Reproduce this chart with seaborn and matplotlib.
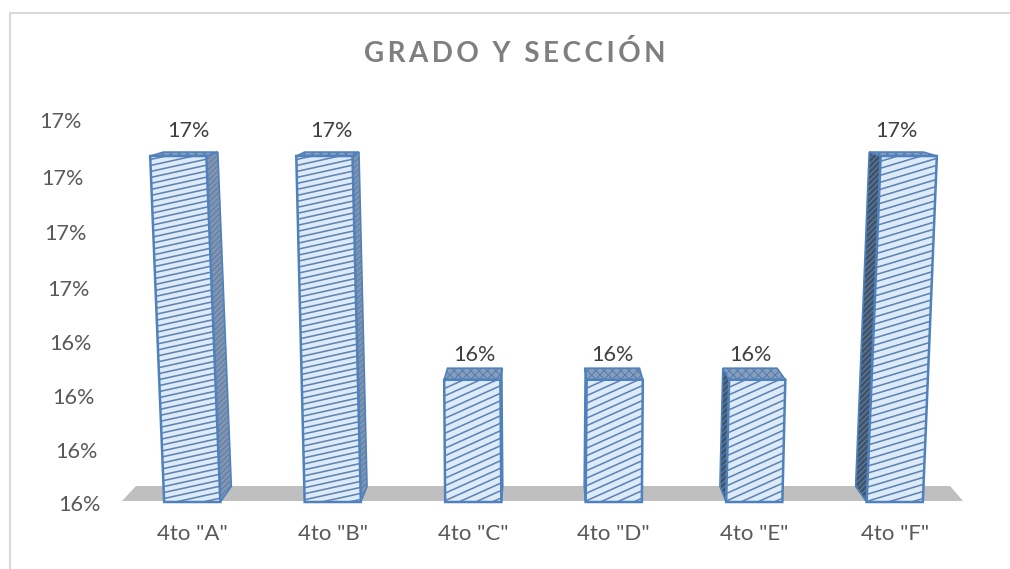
import numpy as np
import pandas as pd
import seaborn as sns
import matplotlib.pyplot as plt
from matplotlib.collections import LineCollection
from matplotlib.patches import Polygon, Rectangle
from matplotlib.transforms import Affine2D, IdentityTransform

sections = ['4to "A"', '4to "B"', '4to "C"', '4to "D"', '4to "E"', '4to "F"']
percent = [16.734, 16.734, 16.324, 16.324, 16.324, 16.734]
bar_labels = ["17%", "17%", "16%", "16%", "16%", "17%"]
y_ticks = [16.1, 16.2, 16.3, 16.4, 16.5, 16.6, 16.7, 16.8]
y_tick_labels = ["16%", "16%", "16%", "16%", "17%", "17%", "17%", "17%"]

W, H = 1010, 569
BASE = y_ticks[0]
VP = np.array([543.0, H - 40.0])      # vanishing point, bars recede toward it
DEPTH = np.array([0.034, 0.034])
LEAN = 14 / (351 * 346)               # outward lean of the front faces
BLUE = "#4F81BD"
FILL = "#DDEBF8"
ID = IdentityTransform()


def px(x, y):
    """Reference pixel (y down) to display coords."""
    return (x, H - y)


def back(p):
    return p + DEPTH * (VP - p)


sns.set_theme(style="white")
plt.rcParams["font.family"] = ["Lato", "DejaVu Sans"]
plt.rcParams["hatch.linewidth"] = 0.8

fig = plt.figure(figsize=(W / 100, H / 100), dpi=100)
ax = fig.add_axes([122 / W, (H - 502) / H, 843 / W, 382 / H])
ax.patch.set_alpha(0)

df = pd.DataFrame({"section": sections, "percent": percent})
sns.barplot(data=df, x="section", y="percent", color=FILL, saturation=1, width=0.4,
            linewidth=0, ax=ax, zorder=5)
ax.set_xlim(-0.5, 5.5)
ax.set_ylim(BASE, 16.8)
ax.set_xlabel("")
ax.set_ylabel("")
sns.despine(ax=ax, left=True, bottom=True)

# chart frame, only top and left are inside the picture
fig.add_artist(Rectangle(px(10, 575), 1100, 562, transform=ID, fill=False,
                         edgecolor="#D9D9D9", linewidth=1.5, zorder=-2))

# floor
fig.add_artist(Polygon([px(122, 501), px(136, 486), px(950, 486), px(963, 501)],
                       closed=True, transform=ID, facecolor="#BFBFBF", edgecolor="none", zorder=-1))

slopes = [0.22, 0.22, 0.45, 0.45, 0.45, 0.3]
gaps = [6, 6, 7.5, 7.5, 7.5, 7]
for bar, label, slope, gap in zip(ax.patches, bar_labels, slopes, gaps):
    bar.set_y(BASE)
    bar.set_height(bar.get_height() - BASE)
    x0, x1 = bar.get_x(), bar.get_x() + bar.get_width()
    top = bar.get_y() + bar.get_height()

    # lean the front face in pixel space
    (dx0, dy0), (dx1, dy1) = ax.transData.transform([(x0, BASE), (x1, top)])
    lean = LEAN * ((dx0 + dx1) / 2 - VP[0])
    bar.set_transform(ax.transData + Affine2D().translate(0, -dy0)
                      + Affine2D.from_values(1, 0, lean, 1, 0, 0).translate(0, dy0))
    bar.set_clip_on(False)

    shift = lean * (dy1 - dy0)
    bl = np.array([dx0, dy0])
    br = np.array([dx1, dy0])
    tl = np.array([dx0 + shift, dy1])
    tr = np.array([dx1 + shift, dy1])

    # side and top faces
    side = (br, back(br), back(tr), tr) if dx1 < VP[0] else (bl, back(bl), back(tl), tl)
    dark = dx1 > VP[0] + 100
    ax.add_patch(Polygon(side, closed=True, transform=ID, clip_on=False, zorder=3,
                         facecolor="#46525F" if dark else "#8794A8",
                         edgecolor=BLUE, linewidth=1.2, hatch="//////"))
    ax.add_patch(Polygon((tl, back(tl), back(tr), tr), closed=True, transform=ID, clip_on=False,
                         zorder=4, facecolor="#8C9DB5", edgecolor=BLUE, linewidth=1.2, hatch="xxxx"))

    # bar outline, also the clip shape of the hatch
    outline = Polygon((bl, br, tr, tl), closed=True, transform=ID, fill=False, clip_on=False,
                      edgecolor=BLUE, linewidth=1.8, zorder=7)
    ax.add_patch(outline)

    # shallow diagonal hatch on the front face
    xa, xb = min(bl[0], tl[0]) - 2, max(br[0], tr[0]) + 2
    starts = np.arange(dy0 - gap * 12, dy1 + gap, gap)
    segs = [[(xa, s), (xb, s + slope * (xb - xa))] for s in starts]
    lines = LineCollection(segs, colors="#5F83B3", linewidths=1.15, transform=ID, zorder=6)
    ax.add_collection(lines, autolim=False)
    lines.set_clip_path(outline)

    ax.text((back(tl)[0] + back(tr)[0]) / 2 - (2 if dx1 < 300 else 0), dy1 + 25, label, transform=ID,
            ha="center", va="center", fontsize=15.6, color="#404040", zorder=8)

ax.set_yticks(y_ticks, y_tick_labels)
ax.tick_params(axis="y", length=0, pad=0, labelsize=15.6, labelcolor="#595959")
ax.tick_params(axis="x", length=0, pad=16, labelsize=16, labelcolor="#595959")

# y labels drift left with height, following the wall perspective
ax_left, ax_w = 122, 843
y_nudge = [1, 3, 3, 4, 4, 3, 2, 0]
for tick, value, nudge in zip(ax.yaxis.get_major_ticks(), y_ticks, y_nudge):
    center = 79 - 19 * (value - y_ticks[0]) / (y_ticks[-1] - y_ticks[0])
    tick.label1.set_x((center - ax_left) / ax_w)
    tick.label1.set_horizontalalignment("center")
    tick.label1.set_transform(tick.label1.get_transform() + Affine2D().translate(0, -nudge))

fig.text(515 / W, (H - 53) / H,
         "G\u2009R\u2009A\u2009D\u2009O\u2009\u2009 Y\u2009\u2009 S\u2009E\u2009C\u2009C\u2009I\u2009Ó\u2009N",
         ha="center", va="center", fontsize=20, fontweight="bold", color="#7F7F7F")

fig.savefig("out.png", dpi=100)
